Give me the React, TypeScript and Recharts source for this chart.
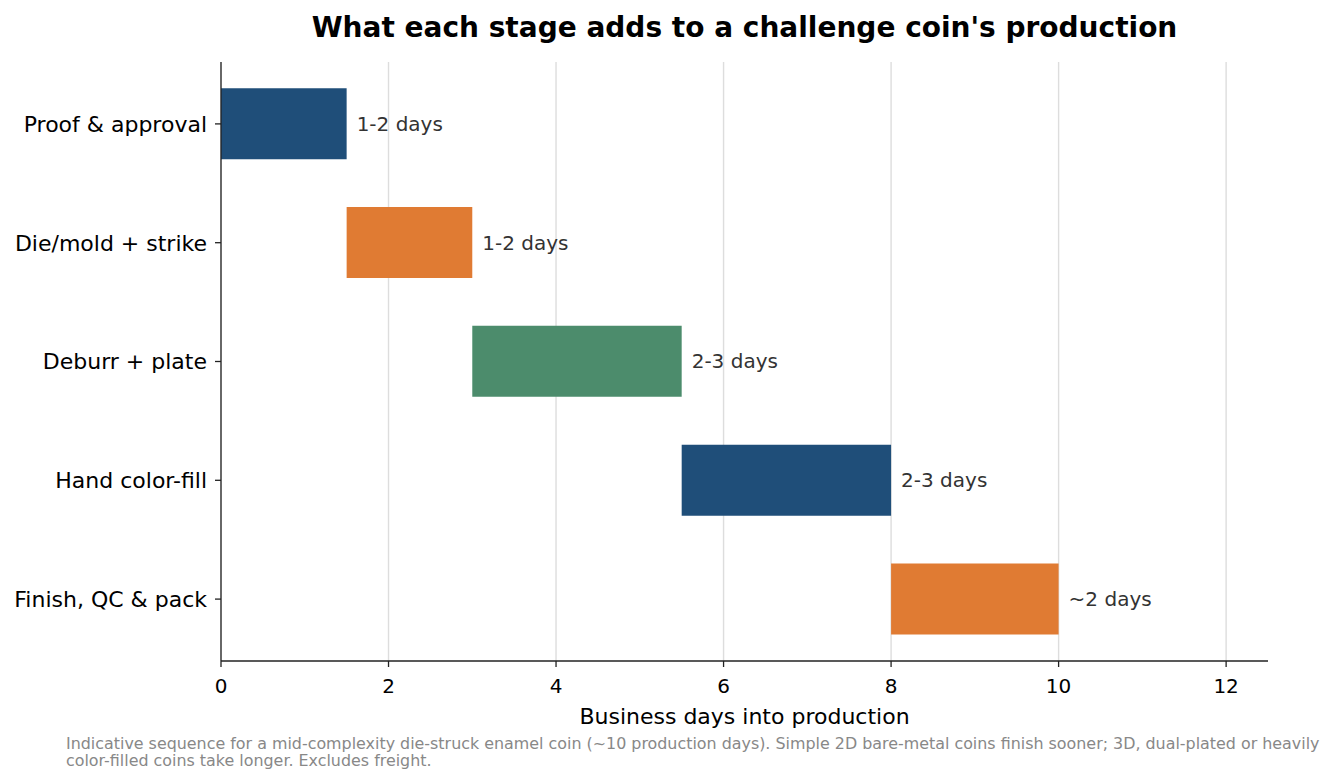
import { BarChart, Bar, XAxis, YAxis, CartesianGrid, Cell, LabelList } from 'recharts'

const stages = ['Proof & approval', 'Die/mold + strike', 'Deburr + plate', 'Hand color-fill', 'Finish, QC & pack']
const startDays = [0, 1.5, 3, 5.5, 8]
const durationDays = [1.5, 1.5, 2.5, 2.5, 2]
const durationLabels = ['1-2 days', '1-2 days', '2-3 days', '2-3 days', '~2 days']
const barColors = ['#1f4e79', '#e07b33', '#4c8c6c', '#1f4e79', '#e07b33']
const xTicks = [0, 2, 4, 6, 8, 10, 12]

const data = stages.map((stage, i) => ({
  stage,
  start: startDays[i],
  duration: durationDays[i],
  label: durationLabels[i],
}))

const font = 'DejaVu Sans, sans-serif'

export default function App() {
  return (
    <div style={{ position: 'absolute', left: 0, top: 0, width: 1336, height: 784, background: '#fff', fontFamily: font }}>
      <div
        style={{
          position: 'absolute',
          top: 11,
          left: 221,
          width: 1047,
          textAlign: 'center',
          fontSize: 28,
          lineHeight: '34px',
          fontWeight: 'bold',
          color: '#000',
        }}
      >
        What each stage adds to a challenge coin's production
      </div>

      <BarChart
        width={1336}
        height={784}
        data={data}
        layout="vertical"
        barCategoryGap="20%"
        margin={{ top: 62, right: 68, bottom: 53, left: 0 }}
      >
        {/* vertical gridlines at the x ticks only (no edge lines) */}
        <CartesianGrid horizontal={false} syncWithTicks stroke="#dddddd" strokeWidth={1.4} />
        <XAxis
          type="number"
          domain={[0, 12.5]}
          ticks={xTicks}
          allowDataOverflow
          height={70}
          axisLine={{ stroke: '#222', strokeWidth: 1.3 }}
          tickLine={{ stroke: '#222', strokeWidth: 1.3 }}
          tick={{ fill: '#000', fontSize: 20, fontFamily: font }}
          tickSize={6}
          tickMargin={12}
          label={{
            value: 'Business days into production',
            position: 'insideBottom',
            offset: 7,
            fill: '#000',
            fontSize: 22,
            fontFamily: font,
          }}
        />
        <YAxis
          type="category"
          dataKey="stage"
          width={221}
          padding={{ top: 2.5, bottom: 2.5 }}
          axisLine={{ stroke: '#222', strokeWidth: 1.3 }}
          tickLine={{ stroke: '#222', strokeWidth: 1.3 }}
          tick={{ fill: '#000', fontSize: 22, fontFamily: font }}
          tickSize={6}
          tickMargin={8}
        />
        <Bar dataKey="start" stackId="g" fill="transparent" isAnimationActive={false} />
        <Bar dataKey="duration" stackId="g" isAnimationActive={false}>
          {data.map((d, i) => (
            <Cell key={d.stage} fill={barColors[i]} />
          ))}
          <LabelList
            dataKey="label"
            position="right"
            offset={10}
            fill="#333"
            fontSize={20}
            fontFamily={font}
          />
        </Bar>
      </BarChart>

      <div
        style={{
          position: 'absolute',
          left: 66,
          top: 735,
          fontSize: 15.9,
          lineHeight: '17px',
          color: '#888',
          whiteSpace: 'nowrap',
        }}
      >
        Indicative sequence for a mid-complexity die-struck enamel coin (~10 production days). Simple 2D bare-metal coins finish sooner; 3D, dual-plated or heavily
        <br />
        color-filled coins take longer. Excludes freight.
      </div>
    </div>
  )
}
